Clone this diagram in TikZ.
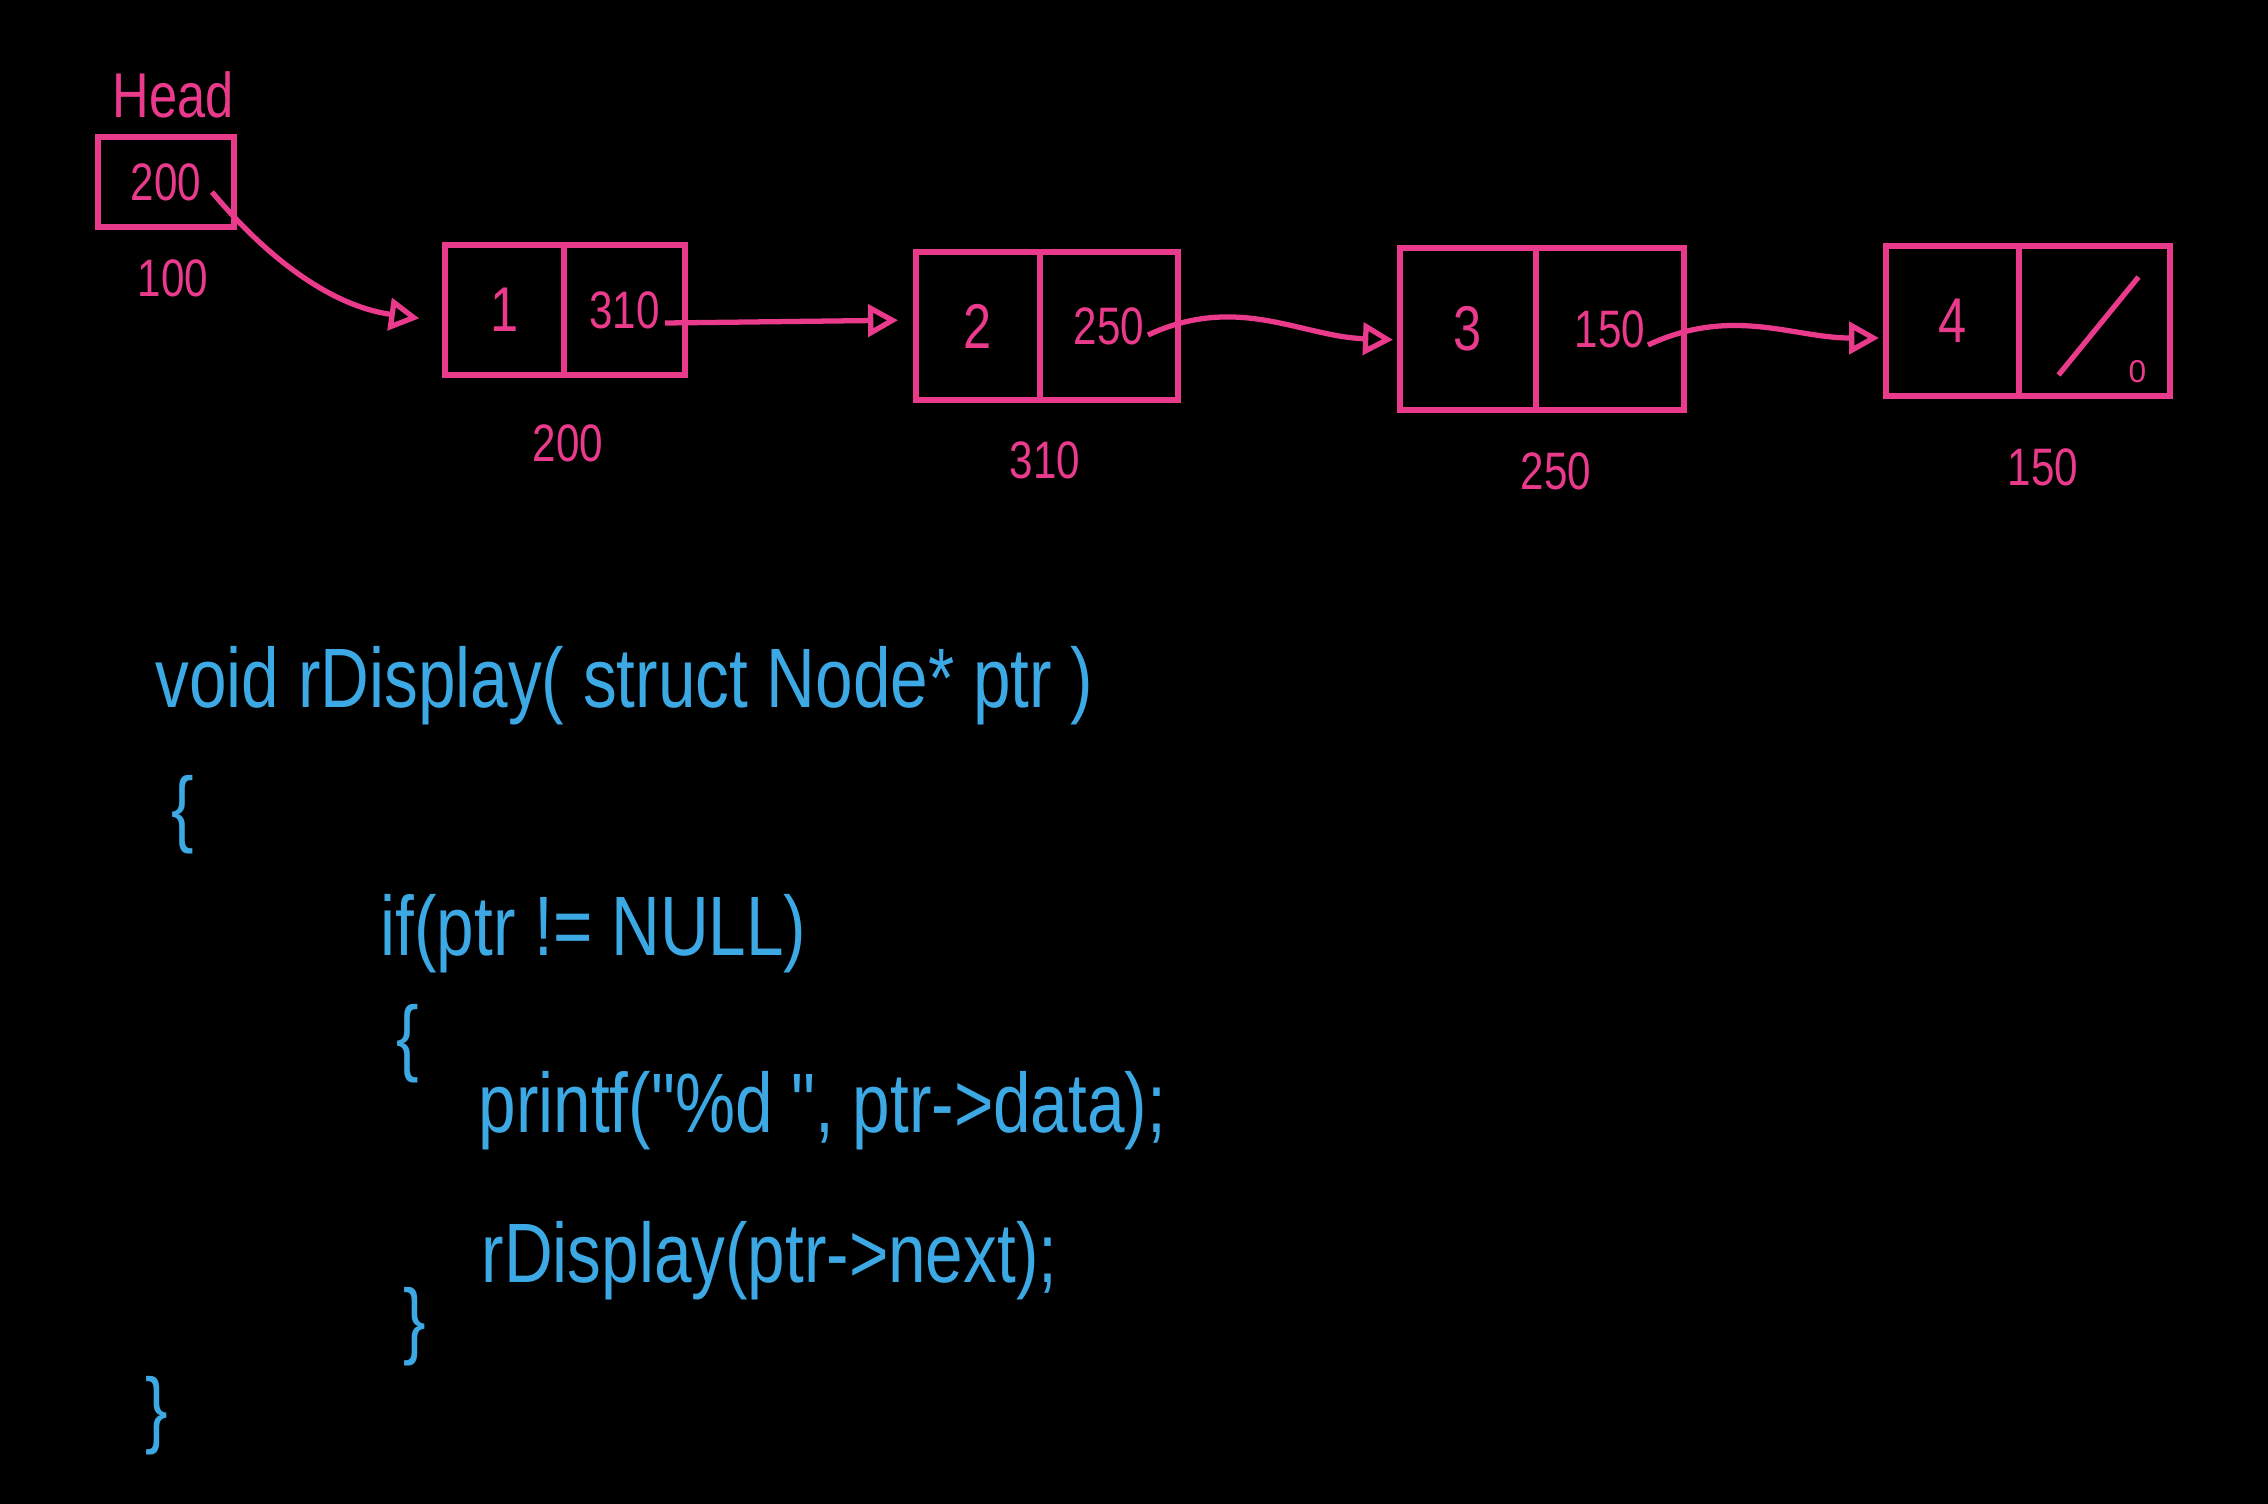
\documentclass[tikz,border=0pt]{standalone}
\usepackage{fontspec}
\newfontfamily\handfont{Liberation Sans}
\usetikzlibrary{arrows.meta,positioning,calc}
\definecolor{inkpink}{HTML}{EA3A8C}
\definecolor{inkblue}{HTML}{3DA9E4}
\newcommand{\hw}[1]{\scalebox{0.8}[1]{#1}}

\begin{document}
\begin{tikzpicture}[
    cell/.style={draw=inkpink, line width=1.5pt, text=inkpink, inner sep=0pt, outer sep=0pt,
                 font=\handfont\fontsize{18}{20}\selectfont},
    addr/.style={text=inkpink, font=\handfont\fontsize{15}{18}\selectfont},
    code/.style={text=inkblue, anchor=base west, inner sep=0pt, font=\handfont\fontsize{24}{28}\selectfont},
    brace/.style={text=inkblue, inner sep=0pt, font=\handfont\fontsize{24}{28}\selectfont},
    link/.style={-{Triangle[open, length=3mm, width=3.2mm]}, inkpink, line width=1.5pt, shorten >=0.7mm}]
  \useasboundingbox (0,0) rectangle (22.68,-15.04);
  \fill[black] (0,0) rectangle (22.68,-15.04);
  % head pointer
  \node[text=inkpink, anchor=base, font=\handfont\fontsize{18}{20}\selectfont] (headlbl) at (1.73,-1.17) {\hw{Head}};
  \node[cell, minimum width=1.36cm, minimum height=0.9cm, font=\handfont\fontsize{15}{18}\selectfont] (hd) at (1.66,-1.82) {\hw{200}};
  \node[addr] (hdaddr) at (1.73,-2.78) {\hw{100}};
  % list nodes: data cell + link cell
  \node[cell, minimum width=1.19cm, minimum height=1.30cm] (n1d) at (5.045,-3.10) {\hw{1}};
  \node[cell, minimum width=1.21cm, minimum height=1.30cm, font=\handfont\fontsize{15}{18}\selectfont] (n1l) [right=0pt of n1d] {\hw{310}};
  \node[cell, minimum width=1.24cm, minimum height=1.48cm] (n2d) at (9.78,-3.26) {\hw{2}};
  \node[cell, minimum width=1.38cm, minimum height=1.48cm, font=\handfont\fontsize{15}{18}\selectfont] (n2l) [right=0pt of n2d] {\hw{250}};
  \node[cell, minimum width=1.36cm, minimum height=1.62cm] (n3d) at (14.68,-3.29) {\hw{3}};
  \node[cell, minimum width=1.48cm, minimum height=1.62cm, font=\handfont\fontsize{15}{18}\selectfont] (n3l) [right=0pt of n3d] {\hw{150}};
  \node[cell, minimum width=1.33cm, minimum height=1.50cm] (n4d) at (19.525,-3.21) {\hw{4}};
  \node[cell, minimum width=1.51cm, minimum height=1.50cm] (n4l) [right=0pt of n4d] {};
  \draw[inkpink, line width=1.5pt] ([shift={(-0.36,-0.54)}]n4l.center) -- ([shift={(0.44,0.44)}]n4l.center);
  \node[text=inkpink, font=\handfont\fontsize{9}{10}\selectfont] (nullmark) at ([shift={(0.43,-0.51)}]n4l.center) {0};
  % addresses
  \node[addr] (a1) at (5.68,-4.43) {\hw{200}};
  \node[addr] (a2) at (10.45,-4.60) {\hw{310}};
  \node[addr] (a3) at (15.56,-4.71) {\hw{250}};
  \node[addr] (a4) at (20.43,-4.67) {\hw{150}};
  % links
  \draw[link, shorten >=2.6mm] ([shift={(-0.22,-0.10)}]hd.east) to[out=-50,in=172] ([yshift=-0.12cm]n1d.west);
  \draw[link, shorten >=1.8mm] ([shift={(-0.20,-0.13)}]n1l.east) -- ([yshift=0.06cm]n2d.west);
  \draw[link] ([shift={(-0.30,-0.09)}]n2l.east) to[out=25,in=178] ([yshift=-0.11cm]n3d.west);
  \draw[link] ([shift={(-0.36,-0.16)}]n3l.east) to[out=25,in=180] ([yshift=-0.17cm]n4d.west);
  % code
  \node[code] (sig) at (1.55,-7.07) {\hw{void rDisplay( struct Node* ptr )}};
  \node[brace] (ob1) at (1.83,-8.15) {\hw{\{}};
  \node[code] (cond) at (3.80,-9.55) {\hw{if(ptr != NULL)}};
  \node[brace] (ob2) at (4.08,-10.44) {\hw{\{}};
  \node[code] (prt) at (4.78,-11.32) {\hw{printf("\%d ", ptr->data);}};
  \node[code] (rec) at (4.81,-12.82) {\hw{rDisplay(ptr->next);}};
  \node[brace] (cb2) at (4.15,-13.27) {\hw{\}}};
  \node[brace] (cb1) at (1.57,-14.16) {\hw{\}}};
\end{tikzpicture}
\end{document}
